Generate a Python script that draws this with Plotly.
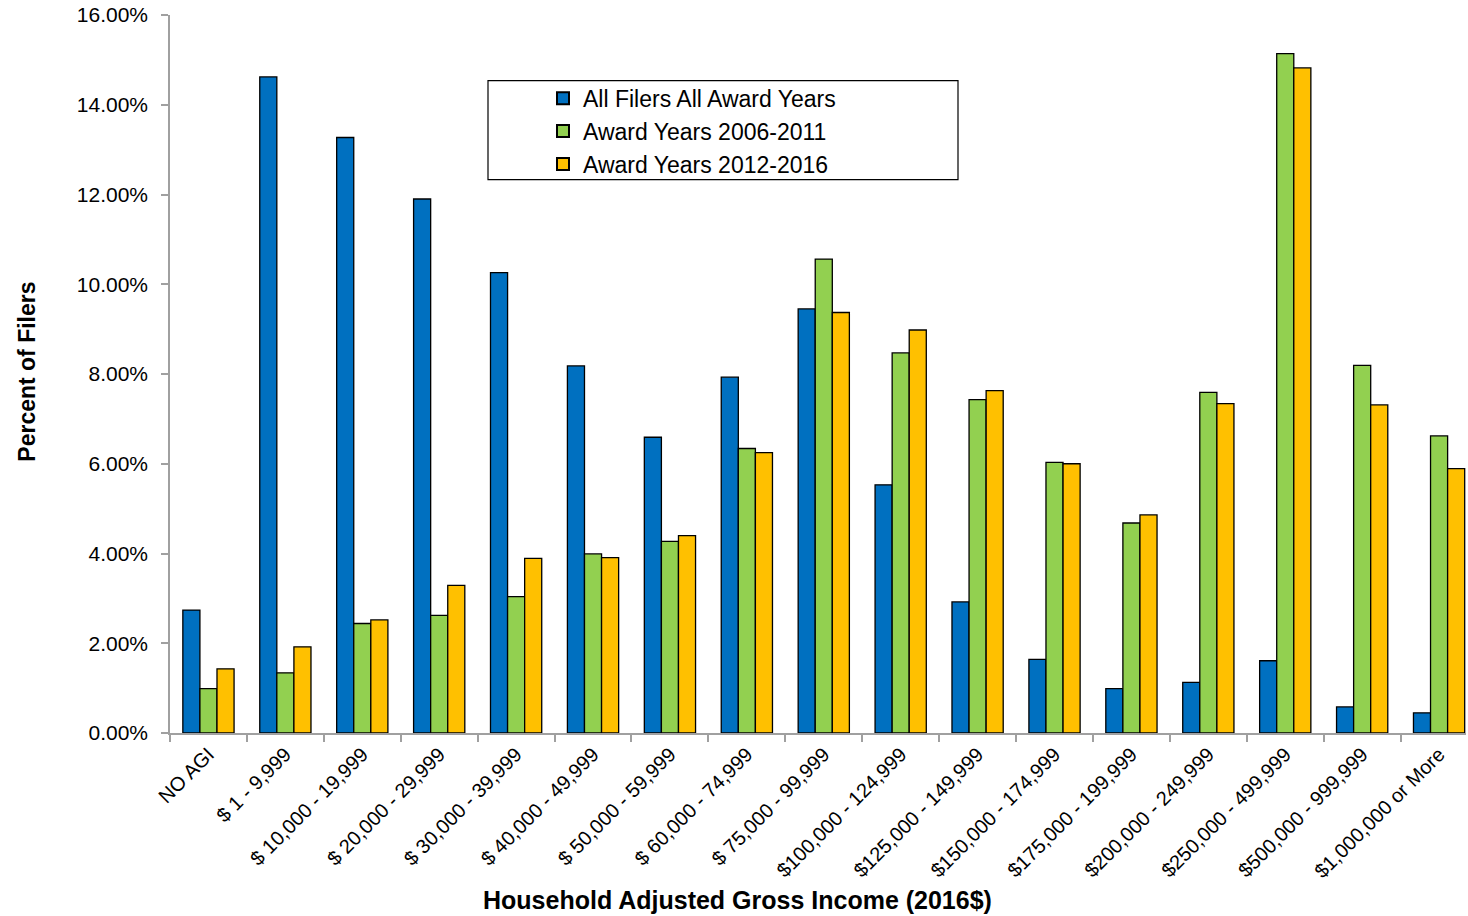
import plotly.graph_objects as go

categories = ["NO AGI", "$ 1 - 9,999", "$ 10,000 - 19,999", "$ 20,000 - 29,999",
              "$ 30,000 - 39,999", "$ 40,000 - 49,999", "$ 50,000 - 59,999",
              "$ 60,000 - 74,999", "$ 75,000 - 99,999", "$100,000 - 124,999",
              "$125,000 - 149,999", "$150,000 - 174,999", "$175,000 - 199,999",
              "$200,000 - 249,999", "$250,000 - 499,999", "$500,000 - 999,999",
              "$1,000,000 or More"]

all_filers = [2.74, 14.62, 13.27, 11.90, 10.26, 8.18, 6.59, 7.93, 9.45, 5.53,
              2.92, 1.64, 0.99, 1.13, 1.61, 0.58, 0.45]
years_2006_2011 = [0.99, 1.34, 2.44, 2.62, 3.04, 3.99, 4.27, 6.34, 10.56, 8.47,
                   7.43, 6.03, 4.68, 7.59, 15.14, 8.19, 6.62]
years_2012_2016 = [1.43, 1.92, 2.52, 3.29, 3.89, 3.91, 4.40, 6.25, 9.37, 8.98,
                   7.63, 6.00, 4.86, 7.34, 14.82, 7.31, 5.89]

series_names = ["All Filers All Award Years", "Award Years 2006-2011", "Award Years 2012-2016"]
series_colors = ["#0070C0", "#92D050", "#FFC000"]
y_ticks = [0, 2, 4, 6, 8, 10, 12, 14, 16]
y_tick_labels = ["0.00%", "2.00%", "4.00%", "6.00%", "8.00%", "10.00%", "12.00%", "14.00%", "16.00%"]

FONT = "Liberation Sans, Arial, sans-serif"

fig = go.Figure()
for name, vals, col in zip(series_names, [all_filers, years_2006_2011, years_2012_2016], series_colors):
    fig.add_trace(go.Bar(
        x=categories, y=vals, name=name,
        marker=dict(color=col, line=dict(color="#000000", width=1.3)),
    ))

W, H = 1468, 916
L, R, T, B = 170, 2, 15.3, 182.7
PW = W - L - R
PH = H - T - B
Y0 = H - B  # pixel y of zero line

fig.update_layout(
    width=W, height=H,
    margin=dict(l=L, r=R, t=T, b=B, autoexpand=False),
    paper_bgcolor="white", plot_bgcolor="white",
    barmode="group", bargap=0.334, bargroupgap=0,
    font=dict(family=FONT, color="#000000"),
    showlegend=True,
    legend=dict(
        x=(543 - L) / PW, y=(Y0 - 77) / PH, xanchor="left", yanchor="top",
        bgcolor="rgba(0,0,0,0)", borderwidth=0,
        font=dict(size=23, family=FONT, color="#000000"),
        tracegroupgap=0, itemsizing="constant",
    ),
    xaxis=dict(
        type="category", range=[-0.5, 16.35],
        showline=True, linecolor="#A0A0A0", linewidth=1.5,
        ticks="outside", tickson="boundaries", ticklen=7, tickcolor="#A0A0A0", tickwidth=1.5,
        tickangle=-45, tickfont=dict(size=20, family=FONT, color="#000000"),
        showgrid=False, zeroline=False, automargin=False,
    ),
    yaxis=dict(
        range=[0, 16], tickmode="array", tickvals=y_ticks, ticktext=y_tick_labels,
        showline=True, linecolor="#A0A0A0", linewidth=1.5,
        ticks="outside", ticklen=7, tickcolor="#A0A0A0", tickwidth=1.5,
        ticklabelstandoff=9,
        tickfont=dict(size=21, family=FONT, color="#000000"),
        showgrid=False, zeroline=False, automargin=False,
    ),
    shapes=[dict(
        type="rect", xref="paper", yref="paper",
        x0=(488 - L) / PW, x1=(958 - L) / PW,
        y0=(Y0 - 180) / PH, y1=(Y0 - 81) / PH,
        line=dict(color="#000000", width=1.2), fillcolor="rgba(0,0,0,0)", layer="below",
    )],
    annotations=[
        dict(text="<b>Household Adjusted Gross Income (2016$)</b>", xref="paper", yref="paper",
             x=(737 - L) / PW, y=(Y0 - 900) / PH, xanchor="center", yanchor="middle",
             showarrow=False, font=dict(size=25, family=FONT, color="#000000")),
        dict(text="<b>Percent of Filers</b>", xref="paper", yref="paper",
             x=(27 - L) / PW, y=(Y0 - 372) / PH, xanchor="center", yanchor="middle",
             textangle=-90, showarrow=False, font=dict(size=23, family=FONT, color="#000000")),
    ],
)

fig.write_html("out.html", config={"displayModeBar": False},
               post_script="document.body.style.margin='0px';document.body.style.overflow='hidden';")
